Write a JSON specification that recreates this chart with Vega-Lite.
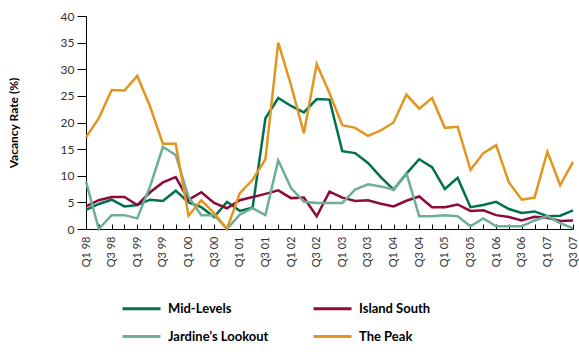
{
  "$schema": "https://vega.github.io/schema/vega-lite/v6.json",
  "width": 487,
  "height": 213,
  "autosize": {"type": "none"},
  "padding": {"left": 86, "top": 16, "right": 6, "bottom": 123},
  "config": {"view": {"stroke": null}, "font": "Lato"},
  "data": {"values": [
    {"q":"Q1 98","Mid-Levels":3.6,"Island South":4.25,"Jardine’s Lookout":8.9,"The Peak":17.2},
    {"q":"Q2 98","Mid-Levels":4.7,"Island South":5.4,"Jardine’s Lookout":0,"The Peak":20.8},
    {"q":"Q3 98","Mid-Levels":5.5,"Island South":6.0,"Jardine’s Lookout":2.6,"The Peak":26.1},
    {"q":"Q4 98","Mid-Levels":4.25,"Island South":6.0,"Jardine’s Lookout":2.6,"The Peak":26.0},
    {"q":"Q1 99","Mid-Levels":4.5,"Island South":4.5,"Jardine’s Lookout":2.0,"The Peak":28.75},
    {"q":"Q2 99","Mid-Levels":5.5,"Island South":6.9,"Jardine’s Lookout":8.0,"The Peak":23.0},
    {"q":"Q3 99","Mid-Levels":5.25,"Island South":8.75,"Jardine’s Lookout":15.4,"The Peak":16.0},
    {"q":"Q4 99","Mid-Levels":7.2,"Island South":9.75,"Jardine’s Lookout":13.9,"The Peak":16.0},
    {"q":"Q1 00","Mid-Levels":5.0,"Island South":5.5,"Jardine’s Lookout":6.0,"The Peak":2.5},
    {"q":"Q2 00","Mid-Levels":4.1,"Island South":6.9,"Jardine’s Lookout":2.6,"The Peak":5.4},
    {"q":"Q3 00","Mid-Levels":2.25,"Island South":4.9,"Jardine’s Lookout":2.6,"The Peak":3.0},
    {"q":"Q4 00","Mid-Levels":5.1,"Island South":3.9,"Jardine’s Lookout":0,"The Peak":0},
    {"q":"Q1 01","Mid-Levels":3.4,"Island South":5.4,"Jardine’s Lookout":2.7,"The Peak":6.75},
    {"q":"Q2 01","Mid-Levels":4.0,"Island South":6.0,"Jardine’s Lookout":3.9,"The Peak":9.25},
    {"q":"Q3 01","Mid-Levels":20.8,"Island South":6.6,"Jardine’s Lookout":2.6,"The Peak":13.1},
    {"q":"Q4 01","Mid-Levels":24.6,"Island South":7.25,"Jardine’s Lookout":12.9,"The Peak":35.0},
    {"q":"Q1 02","Mid-Levels":23.1,"Island South":5.8,"Jardine’s Lookout":7.7,"The Peak":27.0},
    {"q":"Q2 02","Mid-Levels":21.9,"Island South":5.9,"Jardine’s Lookout":5.1,"The Peak":18.0},
    {"q":"Q3 02","Mid-Levels":24.4,"Island South":2.4,"Jardine’s Lookout":4.9,"The Peak":31.0},
    {"q":"Q4 02","Mid-Levels":24.3,"Island South":7.0,"Jardine’s Lookout":4.9,"The Peak":25.5},
    {"q":"Q1 03","Mid-Levels":14.6,"Island South":5.9,"Jardine’s Lookout":4.9,"The Peak":19.5},
    {"q":"Q2 03","Mid-Levels":14.25,"Island South":5.25,"Jardine’s Lookout":7.4,"The Peak":19.0},
    {"q":"Q3 03","Mid-Levels":12.4,"Island South":5.4,"Jardine’s Lookout":8.4,"The Peak":17.5},
    {"q":"Q4 03","Mid-Levels":9.75,"Island South":4.75,"Jardine’s Lookout":8.0,"The Peak":18.5},
    {"q":"Q1 04","Mid-Levels":7.4,"Island South":4.25,"Jardine’s Lookout":7.4,"The Peak":20.0},
    {"q":"Q2 04","Mid-Levels":10.4,"Island South":5.3,"Jardine’s Lookout":10.5,"The Peak":25.25},
    {"q":"Q3 04","Mid-Levels":13.1,"Island South":6.1,"Jardine’s Lookout":2.4,"The Peak":22.6},
    {"q":"Q4 04","Mid-Levels":11.6,"Island South":4.1,"Jardine’s Lookout":2.4,"The Peak":24.6},
    {"q":"Q1 05","Mid-Levels":7.5,"Island South":4.1,"Jardine’s Lookout":2.6,"The Peak":19.0},
    {"q":"Q2 05","Mid-Levels":9.6,"Island South":4.6,"Jardine’s Lookout":2.4,"The Peak":19.2},
    {"q":"Q3 05","Mid-Levels":4.1,"Island South":3.4,"Jardine’s Lookout":0.5,"The Peak":11.1},
    {"q":"Q4 05","Mid-Levels":4.5,"Island South":3.5,"Jardine’s Lookout":2.0,"The Peak":14.25},
    {"q":"Q1 06","Mid-Levels":5.1,"Island South":2.6,"Jardine’s Lookout":0.5,"The Peak":15.75},
    {"q":"Q2 06","Mid-Levels":3.75,"Island South":2.25,"Jardine’s Lookout":0.5,"The Peak":8.75},
    {"q":"Q3 06","Mid-Levels":3.0,"Island South":1.6,"Jardine’s Lookout":0.5,"The Peak":5.5},
    {"q":"Q4 06","Mid-Levels":3.3,"Island South":2.3,"Jardine’s Lookout":1.6,"The Peak":5.9},
    {"q":"Q1 07","Mid-Levels":2.4,"Island South":2.1,"Jardine’s Lookout":2.4,"The Peak":14.5},
    {"q":"Q2 07","Mid-Levels":2.5,"Island South":1.5,"Jardine’s Lookout":1.1,"The Peak":8.25},
    {"q":"Q3 07","Mid-Levels":3.5,"Island South":1.6,"Jardine’s Lookout":0.1,"The Peak":12.6}
  ]},
  "transform": [
    {"fold": ["Mid-Levels", "Island South", "Jardine’s Lookout", "The Peak"], "as": ["area", "v"]}
  ],
  "mark": {"type": "line", "strokeWidth": 2.5},
  "encoding": {
    "x": {
      "field": "q", "type": "ordinal", "sort": null,
      "scale": {"type": "point", "padding": 0},
      "axis": {
        "title": null,
        "labelAngle": 270,
        "labelExpr": "(indexof(datum.label,'Q2')>=0 || indexof(datum.label,'Q4')>=0) ? '' : datum.label",
        "labelFontSize": 11,
        "labelColor": "#333333",
        "labelPadding": 12,
        "tickSize": -5,
        "tickColor": "#000000",
        "domainColor": "#000000"
      }
    },
    "y": {
      "field": "v", "type": "quantitative",
      "scale": {"domain": [0, 40]},
      "axis": {
        "title": "Vacancy Rate  (%)",
        "titleFontSize": 12,
        "titleFontWeight": "bold",
        "titleColor": "#000000",
        "titlePadding": 40,
        "values": [0,5,10,15,20,25,30,35,40],
        "grid": false,
        "tickSize": 9,
        "tickColor": "#000000",
        "domainColor": "#000000",
        "labelFontSize": 12,
        "labelColor": "#333333",
        "labelPadding": 3
      }
    },
    "color": {
      "field": "area", "type": "nominal",
      "scale": {
        "domain": ["Mid-Levels", "Jardine’s Lookout", "Island South", "The Peak"],
        "range": ["#00704f", "#6cae98", "#8c0a3c", "#e0961f"]
      },
      "legend": {
        "title": null,
        "orient": "none",
        "legendX": 35,
        "legendY": 272,
        "columns": 2,
        "symbolType": "stroke",
        "symbolSize": 1444,
        "symbolStrokeWidth": 3,
        "labelFontSize": 13,
        "labelFontWeight": "bold",
        "labelColor": "#000000",
        "labelOffset": 6,
        "rowPadding": 0,
        "columnPadding": 38
      }
    }
  }
}
